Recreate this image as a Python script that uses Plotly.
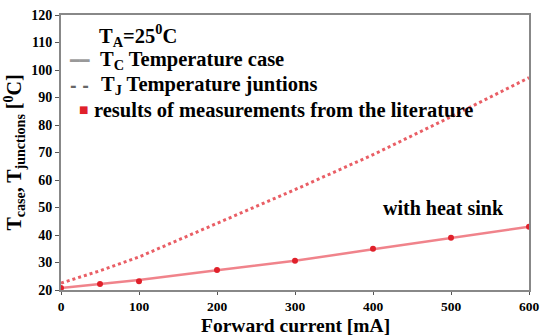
import plotly.graph_objects as go

current = [0, 50, 100, 200, 300, 400, 500, 600]
t_case = [20.7, 22.2, 23.6, 27.2, 30.6, 34.8, 38.9, 43.0]
t_junction = [22.5, 27.0, 32.0, 44.2, 56.5, 69.2, 83.0, 97.2]
meas_current = [0, 50, 100, 200, 300, 400, 500, 600]
meas_temp = [20.7, 22.2, 23.2, 27.3, 30.6, 35.0, 39.0, 43.0]

font_family = "Liberation Serif, Times New Roman, DejaVu Serif, serif"

fig = go.Figure()
fig.add_trace(go.Scatter(x=current, y=t_junction, mode="lines",
                         line=dict(color="rgba(225,40,50,0.75)", width=3, dash="dot"),
                         showlegend=False))
fig.add_trace(go.Scatter(x=current, y=t_case, mode="lines",
                         line=dict(color="rgba(235,90,100,0.75)", width=2.5),
                         showlegend=False))
fig.add_trace(go.Scatter(x=meas_current, y=meas_temp, mode="markers",
                         marker=dict(color="#e0202a", size=6, symbol="circle"),
                         showlegend=False))

ann_font = dict(family=font_family, size=20.5, color="black")

def ann(x, y, text, font=ann_font, xanchor="left", yanchor="middle", borderpad=1):
    fig.add_annotation(x=x, y=y, xref="paper", yref="paper", xanchor=xanchor,
                       yanchor=yanchor, text=text, showarrow=False, font=font,
                       borderpad=borderpad)

ann(0.077, 0.925, "<b>T<sub>A</sub>=25<sup>0</sup>C</b>")
ann(0.013, 0.835, "<b>━━</b>", font=dict(family="DejaVu Sans", size=16, color="#999"))
ann(0.079, 0.835, "<b>T<sub>C</sub> Temperature case</b>")
ann(0.015, 0.745, "<b>- -</b>", font=dict(family="DejaVu Sans", size=16, color="#666"))
ann(0.081, 0.745, "<b>T<sub>J</sub> Temperature juntions</b>")
ann(0.034, 0.655, "■", font=dict(family="DejaVu Sans", size=10, color="#e0202a"))
ann(0.066, 0.655, "<b>results of measurements from the literature</b>")
ann(0.951, 0.30, "<b>with heat sink</b>", font=dict(family=font_family, size=20, color="black"),
    xanchor="right")
# x-axis title placed as paper annotation below the plot
ann(0.5, -0.128, "<b>Forward current [mA]</b>", xanchor="center", yanchor="middle",
    font=dict(family=font_family, size=19.5, color="black"), borderpad=0)

fig.update_layout(
    width=548, height=336,
    margin=dict(l=61, r=19, t=15, b=46),
    paper_bgcolor="white", plot_bgcolor="white",
    font=dict(family=font_family, color="black"),
    xaxis=dict(range=[0, 600], tickvals=[0, 100, 200, 300, 400, 500, 600],
               showgrid=False, zeroline=False, automargin=False,
               showline=True, linecolor="#888", linewidth=2, mirror=True,
               ticks="outside", ticklen=3, tickcolor="#555",
               tickfont=dict(family=font_family, size=13.5, weight="bold")),
    yaxis=dict(range=[20, 120], tickvals=list(range(20, 121, 10)),
               showgrid=False, zeroline=False, automargin=False,
               showline=True, linecolor="#888", linewidth=2, mirror=True,
               ticks="outside", ticklen=4, tickcolor="#555",
               tickfont=dict(family=font_family, size=14, weight="bold"),
               title=dict(text="<b>T<sub>case</sub>, T<sub>junctions</sub> [<sup>0</sup>C]</b>",
                          standoff=4, font=dict(family=font_family, size=20))),
)

fig.write_html("out.html")
